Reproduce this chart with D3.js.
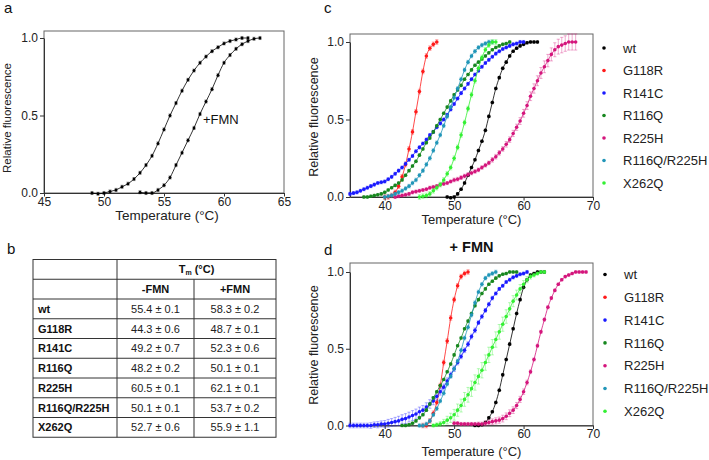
<!DOCTYPE html>
<html>
<head>
<meta charset="utf-8">
<script src="https://cdn.jsdelivr.net/npm/d3@7"></script>
<style>
  body { margin: 0; background: #fff; }
  text { font-family: "Liberation Sans", Arial, sans-serif; }
</style>
</head>
<body>
<svg id="fig" width="709" height="460"></svg>
<script>
// ---- data (temperature °C, relative fluorescence, error) ----
const mutants = ['wt', 'G118R', 'R141C', 'R116Q', 'R225H', 'R116Q/R225H', 'X262Q'];
const colors = ['#000000', '#ff1a1a', '#1a1aff', '#17871f', '#d4157c', '#2196b8', '#33f033'];

const tmNoFmn = ['55.4 ± 0.1', '44.3 ± 0.6', '49.2 ± 0.7', '48.2 ± 0.2', '60.5 ± 0.1', '50.1 ± 0.1', '52.7 ± 0.6'];
const tmFmn = ['58.3 ± 0.2', '48.7 ± 0.1', '52.3 ± 0.6', '50.1 ± 0.1', '62.1 ± 0.1', '53.7 ± 0.2', '55.9 ± 1.1'];

const aXTicks = [45, 50, 55, 60, 65];
const cdXTicks = [40, 50, 60, 70];
const yTicks = [0, 0.5, 1];

// panel a: wt without / with FMN
const aNoFmn = [[49,0,.01],[49.5,-0.005,.01],[50,0,.01],[50.5,0.01,.01],[51,0.02,.01],[51.5,0.04,.01],[52,0.06,.01],[52.5,0.09,.01],[53,0.13,.01],[53.5,0.18,.01],[54,0.24,.01],[54.5,0.32,.01],[55,0.41,.01],[55.5,0.5,.01],[56,0.58,.01],[56.5,0.66,.01],[57,0.73,.01],[57.5,0.79,.01],[58,0.84,.01],[58.5,0.88,.01],[59,0.915,.01],[59.5,0.94,.01],[60,0.965,.01],[60.5,0.98,.01],[61,0.99,.01],[61.5,1,.01],[62,1,.01]];
const aFmn = [[53,0.005,.01],[53.5,0,.01],[54,0,.01],[54.5,0.02,.01],[55,0.05,.01],[55.5,0.1,.01],[56,0.18,.01],[56.5,0.26,.01],[57,0.34,.01],[57.5,0.42,.01],[58,0.51,.01],[58.5,0.59,.01],[59,0.67,.01],[59.5,0.76,.01],[60,0.84,.01],[60.5,0.89,.01],[61,0.93,.01],[61.5,0.96,.01],[62,0.98,.01],[62.5,0.995,.01],[63,1,.01]];

// panel c: no FMN
const cWt = [[49,0,.008],[49.5,-0.005,.008],[50,0,.008],[50.5,0.02,.008],[51,0.05,.008],[51.5,0.09,.008],[52,0.14,.008],[52.5,0.19,.008],[53,0.24,.008],[53.5,0.3,.008],[54,0.36,.008],[54.5,0.43,.008],[55,0.52,.008],[55.5,0.61,.008],[56,0.7,.008],[56.5,0.77,.008],[57,0.83,.008],[57.5,0.87,.008],[58,0.91,.008],[58.5,0.94,.008],[59,0.96,.008],[59.5,0.975,.008],[60,0.985,.008],[60.5,0.995,.008],[61,1,.008],[61.5,1,.008],[62,1,.008]];
const cG118R = [[40,0,.015],[40.5,0,.015],[41,0.01,.015],[41.5,0.03,.015],[42,0.07,.015],[42.5,0.13,.015],[43,0.21,.015],[43.5,0.31,.015],[44,0.42,.015],[44.5,0.55,.015],[45,0.68,.015],[45.5,0.81,.015],[46,0.91,.015],[46.5,0.96,.015],[47,0.985,.015],[47.5,1,.015]];
const cR141C = [[35,0.02,.01],[35.5,0.025,.01],[36,0.03,.01],[36.5,0.04,.01],[37,0.05,.01],[37.5,0.06,.01],[38,0.07,.01],[38.5,0.08,.01],[39,0.09,.01],[39.5,0.095,.01],[40,0.1,.01],[40.5,0.115,.01],[41,0.13,.01],[41.5,0.15,.01],[42,0.17,.01],[42.5,0.19,.01],[43,0.215,.01],[43.5,0.24,.01],[44,0.265,.01],[44.5,0.295,.01],[45,0.32,.01],[45.5,0.345,.01],[46,0.37,.01],[46.5,0.4,.01],[47,0.42,.01],[47.5,0.45,.01],[48,0.475,.01],[48.5,0.5,.01],[49,0.53,.01],[49.5,0.565,.01],[50,0.6,.01],[50.5,0.635,.01],[51,0.67,.01],[51.5,0.7,.01],[52,0.73,.01],[52.5,0.76,.01],[53,0.79,.01],[53.5,0.815,.01],[54,0.84,.01],[54.5,0.865,.01],[55,0.885,.01],[55.5,0.905,.01],[56,0.925,.01],[56.5,0.94,.01],[57,0.955,.01],[57.5,0.965,.01],[58,0.975,.01],[58.5,0.985,.01],[59,0.99,.01],[59.5,1,.01],[60,1,.01]];
const cR116Q = [[37,0,.008],[37.5,0,.008],[38,0.005,.008],[38.5,0.01,.008],[39,0.015,.008],[39.5,0.02,.008],[40,0.03,.008],[40.5,0.045,.008],[41,0.06,.008],[41.5,0.075,.008],[42,0.09,.008],[42.5,0.11,.008],[43,0.14,.008],[43.5,0.17,.008],[44,0.2,.008],[44.5,0.23,.008],[45,0.27,.008],[45.5,0.31,.008],[46,0.35,.008],[46.5,0.38,.008],[47,0.42,.008],[47.5,0.46,.008],[48,0.5,.008],[48.5,0.54,.008],[49,0.58,.008],[49.5,0.62,.008],[50,0.66,.008],[50.5,0.69,.008],[51,0.72,.008],[51.5,0.76,.008],[52,0.79,.008],[52.5,0.82,.008],[53,0.85,.008],[53.5,0.87,.008],[54,0.89,.008],[54.5,0.91,.008],[55,0.93,.008],[55.5,0.95,.008],[56,0.965,.008],[56.5,0.975,.008],[57,0.985,.008],[57.5,0.99,.008],[58,1,.008]];
const cR225H = [[41.5,0,.01],[42,0.005,.01],[42.5,0.01,.01],[43,0.015,.01],[43.5,0.02,.01],[44,0.03,.01],[44.5,0.035,.01],[45,0.04,.01],[45.5,0.045,.01],[46,0.05,.01],[46.5,0.06,.01],[47,0.065,.01],[47.5,0.07,.01],[48,0.08,.01],[48.5,0.085,.01],[49,0.09,.01],[49.5,0.1,.01],[50,0.11,.012],[50.5,0.115,.012],[51,0.125,.012],[51.5,0.135,.012],[52,0.145,.012],[52.5,0.155,.012],[53,0.165,.012],[53.5,0.175,.012],[54,0.19,.012],[54.5,0.205,.012],[55,0.22,.012],[55.5,0.24,.015],[56,0.26,.015],[56.5,0.285,.015],[57,0.31,.015],[57.5,0.34,.018],[58,0.37,.018],[58.5,0.41,.02],[59,0.45,.02],[59.5,0.49,.022],[60,0.54,.025],[60.5,0.59,.025],[61,0.65,.028],[61.5,0.7,.03],[62,0.75,.032],[62.5,0.8,.035],[63,0.84,.038],[63.5,0.88,.04],[64,0.92,.042],[64.5,0.95,.045],[65,0.97,.048],[65.5,0.98,.05],[66,0.99,.05],[66.5,1,.052],[67,1,.052],[67.5,1,.052]];
const cR116QR225H = [[40,0,.012],[40.5,0.005,.012],[41,0.01,.012],[41.5,0.02,.012],[42,0.03,.012],[42.5,0.04,.012],[43,0.055,.012],[43.5,0.07,.012],[44,0.09,.012],[44.5,0.11,.012],[45,0.14,.012],[45.5,0.17,.012],[46,0.21,.012],[46.5,0.25,.012],[47,0.3,.012],[47.5,0.35,.012],[48,0.4,.012],[48.5,0.46,.012],[49,0.52,.012],[49.5,0.58,.012],[50,0.64,.012],[50.5,0.7,.012],[51,0.76,.012],[51.5,0.82,.012],[52,0.87,.012],[52.5,0.91,.012],[53,0.94,.012],[53.5,0.965,.012],[54,0.98,.012],[54.5,0.99,.012],[55,1,.012],[55.5,1,.012]];
const cX262Q = [[45,0,.015],[45.5,0.005,.015],[46,0.01,.015],[46.5,0.02,.015],[47,0.04,.015],[47.5,0.06,.015],[48,0.08,.015],[48.5,0.11,.015],[49,0.15,.015],[49.5,0.19,.015],[50,0.25,.015],[50.5,0.32,.015],[51,0.4,.015],[51.5,0.48,.015],[52,0.57,.015],[52.5,0.66,.015],[53,0.75,.015],[53.5,0.83,.015],[54,0.9,.015],[54.5,0.95,.015],[55,0.98,.015],[55.5,1,.015],[56,1,.015]];

// panel d: + FMN
const dWt = [[53,0,.008],[53.5,0,.008],[54,0.005,.008],[54.5,0.02,.008],[55,0.05,.008],[55.5,0.09,.008],[56,0.15,.008],[56.5,0.23,.008],[57,0.33,.008],[57.5,0.43,.008],[58,0.53,.008],[58.5,0.63,.008],[59,0.73,.008],[59.5,0.82,.008],[60,0.9,.008],[60.5,0.95,.008],[61,0.98,.008],[61.5,0.99,.008],[62,1,.008],[62.5,1,.008],[63,1,.008]];
const dG118R = [[45.5,0,.015],[46,0,.015],[46.5,0.03,.015],[47,0.08,.015],[47.5,0.15,.015],[48,0.26,.015],[48.5,0.41,.015],[49,0.55,.015],[49.5,0.7,.015],[50,0.82,.015],[50.5,0.91,.015],[51,0.97,.015],[51.5,0.99,.015],[52,1,.015]];
const dR141C = [[35,0,.015],[35.5,0,.015],[36,0,.015],[36.5,0,.015],[37,0,.015],[37.5,0,.015],[38,0,.018],[38.5,0.005,.018],[39,0.005,.02],[39.5,0.01,.02],[40,0.01,.022],[40.5,0.015,.025],[41,0.02,.025],[41.5,0.025,.028],[42,0.03,.03],[42.5,0.04,.03],[43,0.045,.032],[43.5,0.055,.032],[44,0.065,.032],[44.5,0.075,.032],[45,0.09,.03],[45.5,0.1,.03],[46,0.12,.028],[46.5,0.14,.028],[47,0.16,.025],[47.5,0.19,.025],[48,0.22,.022],[48.5,0.25,.02],[49,0.29,.02],[49.5,0.33,.018],[50,0.37,.018],[50.5,0.41,.015],[51,0.45,.015],[51.5,0.49,.015],[52,0.53,.015],[52.5,0.58,.015],[53,0.62,.015],[53.5,0.67,.012],[54,0.71,.012],[54.5,0.75,.012],[55,0.79,.012],[55.5,0.83,.012],[56,0.86,.01],[56.5,0.89,.01],[57,0.91,.01],[57.5,0.935,.01],[58,0.95,.01],[58.5,0.965,.01],[59,0.975,.01],[59.5,0.985,.01],[60,0.99,.01],[60.5,1,.01]];
const dR116Q = [[42.5,0,.008],[43,0,.008],[43.5,0.005,.008],[44,0.015,.008],[44.5,0.03,.008],[45,0.05,.008],[45.5,0.07,.008],[46,0.1,.008],[46.5,0.14,.008],[47,0.18,.008],[47.5,0.22,.008],[48,0.26,.008],[48.5,0.3,.008],[49,0.35,.008],[49.5,0.4,.008],[50,0.46,.008],[50.5,0.52,.008],[51,0.57,.008],[51.5,0.63,.008],[52,0.68,.008],[52.5,0.73,.008],[53,0.78,.008],[53.5,0.82,.008],[54,0.86,.008],[54.5,0.89,.008],[55,0.92,.008],[55.5,0.94,.008],[56,0.96,.008],[56.5,0.975,.008],[57,0.985,.008],[57.5,0.99,.008],[58,1,.008],[58.5,1,.008],[59,1,.008]];
const dR225H = [[50,0.015,.01],[50.5,0.015,.01],[51,0.01,.01],[51.5,0.01,.01],[52,0.01,.01],[52.5,0.01,.01],[53,0.01,.01],[53.5,0.01,.012],[54,0.01,.012],[54.5,0.015,.015],[55,0.02,.015],[55.5,0.025,.018],[56,0.03,.02],[56.5,0.035,.02],[57,0.045,.022],[57.5,0.06,.022],[58,0.08,.022],[58.5,0.1,.022],[59,0.13,.02],[59.5,0.17,.02],[60,0.22,.018],[60.5,0.28,.015],[61,0.35,.012],[61.5,0.43,.01],[62,0.52,.01],[62.5,0.61,.01],[63,0.69,.01],[63.5,0.77,.01],[64,0.83,.01],[64.5,0.88,.008],[65,0.92,.008],[65.5,0.95,.008],[66,0.97,.008],[66.5,0.98,.008],[67,0.99,.008],[67.5,1,.008],[68,1,.008],[68.5,1,.008],[69,1,.008]];
const dR116QR225H = [[45,0,.012],[45.5,0,.012],[46,0.01,.012],[46.5,0.03,.012],[47,0.07,.012],[47.5,0.11,.012],[48,0.16,.012],[48.5,0.21,.012],[49,0.27,.012],[49.5,0.32,.012],[50,0.37,.012],[50.5,0.42,.012],[51,0.49,.012],[51.5,0.57,.012],[52,0.64,.012],[52.5,0.72,.012],[53,0.8,.012],[53.5,0.87,.012],[54,0.92,.012],[54.5,0.96,.012],[55,0.98,.012],[55.5,0.99,.012],[56,1,.012]];
const dX262Q = [[47,0,.01],[47.5,0.005,.012],[48,0.01,.015],[48.5,0.02,.02],[49,0.035,.025],[49.5,0.05,.03],[50,0.07,.035],[50.5,0.1,.04],[51,0.13,.042],[51.5,0.17,.045],[52,0.2,.048],[52.5,0.24,.05],[53,0.28,.05],[53.5,0.32,.05],[54,0.36,.05],[54.5,0.41,.05],[55,0.46,.05],[55.5,0.51,.05],[56,0.56,.05],[56.5,0.61,.048],[57,0.66,.046],[57.5,0.71,.044],[58,0.76,.04],[58.5,0.81,.036],[59,0.85,.032],[59.5,0.89,.028],[60,0.92,.024],[60.5,0.95,.02],[61,0.97,.016],[61.5,0.98,.012],[62,0.99,.01],[62.5,1,.01],[63,1,.01]];

const cSeries = [cWt, cG118R, cR141C, cR116Q, cR225H, cR116QR225H, cX262Q];
const dSeries = [dWt, dG118R, dR141C, dR116Q, dR225H, dR116QR225H, dX262Q];

// ---- drawing ----
const svg = d3.select('#fig');
const font = '"Liberation Sans", Arial, sans-serif';

function panelLetter(t, x, y) {
  svg.append('text').text(t).attr('x', x).attr('y', y)
    .style('font-size', '15px').attr('fill', '#111');
}

function drawAxes(x, y, top, xTicks, opts) {
  // frame
  svg.append('rect')
    .attr('x', x.range()[0]).attr('y', top)
    .attr('width', x.range()[1] - x.range()[0])
    .attr('height', y(0) - top)
    .attr('fill', 'none').attr('stroke', '#666').attr('stroke-width', 1);

  const gx = svg.append('g')
    .attr('transform', `translate(0,${y(0)})`)
    .call(d3.axisBottom(x).tickValues(xTicks).tickFormat(d3.format('d'))
      .tickSize(3.5).tickSizeOuter(0).tickPadding(0.5));
  const gy = svg.append('g')
    .attr('transform', `translate(${x.range()[0]},0)`)
    .call(d3.axisLeft(y).tickValues(yTicks).tickFormat(d3.format('.1f'))
      .tickSize(4).tickSizeOuter(0).tickPadding(2));
  [gx, gy].forEach(g => {
    g.attr('font-family', font).attr('font-size', opts.tick);
    g.select('.domain').attr('stroke', '#333');
    g.selectAll('.tick line').attr('stroke', '#333');
    g.selectAll('.tick text').attr('fill', '#222');
  });

  const xm = (x.range()[0] + x.range()[1]) / 2;
  svg.append('text').text('Temperature (°C)')
    .attr('x', xm + opts.xlDx).attr('y', opts.xlY)
    .attr('text-anchor', 'middle').style('font-size', opts.xl + 'px').attr('fill', '#222');
  svg.append('text').text('Relative fluorescence')
    .attr('transform', `translate(${opts.ylX},${opts.ylY}) rotate(-90)`)
    .attr('text-anchor', 'middle').style('font-size', opts.yl + 'px').attr('fill', '#222');
}

function drawSeries(x, y, pts, color, r) {
  const g = svg.append('g');
  g.append('path').datum(pts)
    .attr('d', d3.line().x(d => x(d[0])).y(d => y(d[1])).curve(d3.curveMonotoneX))
    .attr('fill', 'none').attr('stroke', color).attr('stroke-width', 0.8);
  const eb = g.append('g').attr('stroke', color).attr('stroke-opacity', 0.45).attr('stroke-width', 0.8);
  eb.selectAll('.v').data(pts).join('line').attr('class', 'v')
    .attr('x1', d => x(d[0])).attr('x2', d => x(d[0]))
    .attr('y1', d => y(d[1] - d[2])).attr('y2', d => y(d[1] + d[2]));
  eb.selectAll('.t').data(pts).join('line').attr('class', 't')
    .attr('x1', d => x(d[0]) - 1.6).attr('x2', d => x(d[0]) + 1.6)
    .attr('y1', d => y(d[1] + d[2])).attr('y2', d => y(d[1] + d[2]));
  eb.selectAll('.b').data(pts).join('line').attr('class', 'b')
    .attr('x1', d => x(d[0]) - 1.6).attr('x2', d => x(d[0]) + 1.6)
    .attr('y1', d => y(d[1] - d[2])).attr('y2', d => y(d[1] - d[2]));
  g.selectAll('circle').data(pts).join('circle')
    .attr('cx', d => x(d[0])).attr('cy', d => y(d[1])).attr('r', r)
    .attr('fill', color);
}

function drawLegend(x0, y0, step) {
  mutants.forEach((m, i) => {
    svg.append('circle').attr('cx', x0).attr('cy', y0 + i * step).attr('r', 1.8).attr('fill', colors[i]);
    svg.append('text').text(m).attr('x', x0 + 19).attr('y', y0 + i * step + 4.6)
      .style('font-size', '13px').attr('fill', '#222');
  });
}

// panel a
panelLetter('a', 4, 13);
const xa = d3.scaleLinear().domain([45, 65]).range([44, 284]);
const ya = d3.scaleLinear().domain([0, 1]).range([193, 38]);
drawAxes(xa, ya, 31, aXTicks, { tick: 12, xl: 13.5, xlY: 219.5, xlDx: 3, yl: 11.5, ylX: 11, ylY: 118 });
drawSeries(xa, ya, aNoFmn, '#000', 1.5);
drawSeries(xa, ya, aFmn, '#000', 1.5);
svg.append('text').text('+FMN').attr('x', 203).attr('y', 124)
  .style('font-size', '13px').attr('fill', '#111');

// panel b: table
panelLetter('b', 7, 254);
const tb = { left: 33, c1: 117, c2: 194, right: 276, top: 259.5, rowH: 19.75 };
const nRows = mutants.length + 2;
const tg = svg.append('g').attr('stroke', '#333').attr('stroke-width', 1);
tg.append('rect').attr('x', tb.left).attr('y', tb.top)
  .attr('width', tb.right - tb.left).attr('height', nRows * tb.rowH).attr('fill', 'none');
for (let i = 1; i < nRows; i++) {
  tg.append('line').attr('x1', tb.left).attr('x2', tb.right)
    .attr('y1', tb.top + i * tb.rowH).attr('y2', tb.top + i * tb.rowH);
}
tg.append('line').attr('x1', tb.c1).attr('x2', tb.c1).attr('y1', tb.top).attr('y2', tb.top + nRows * tb.rowH);
tg.append('line').attr('x1', tb.c2).attr('x2', tb.c2).attr('y1', tb.top + tb.rowH).attr('y2', tb.top + nRows * tb.rowH);

const rowBase = i => tb.top + (i + 0.5) * tb.rowH + 4;
const hdr = svg.append('text').attr('x', (tb.c1 + tb.right) / 2).attr('y', rowBase(0))
  .attr('text-anchor', 'middle').style('font-size', '11px').style('font-weight', 'bold').attr('fill', '#111');
hdr.append('tspan').text('T');
hdr.append('tspan').text('m').style('font-size', '7px').attr('dy', 2);
hdr.append('tspan').text(' (°C)').attr('dy', -2);
svg.append('text').text('-FMN').attr('x', (tb.c1 + tb.c2) / 2).attr('y', rowBase(1))
  .attr('text-anchor', 'middle').style('font-size', '11px').style('font-weight', 'bold').attr('fill', '#111');
svg.append('text').text('+FMN').attr('x', (tb.c2 + tb.right) / 2).attr('y', rowBase(1))
  .attr('text-anchor', 'middle').style('font-size', '11px').style('font-weight', 'bold').attr('fill', '#111');
mutants.forEach((m, i) => {
  svg.append('text').text(m).attr('x', tb.left + 5).attr('y', rowBase(i + 2))
    .style('font-size', '11px').style('font-weight', 'bold').attr('fill', '#111');
  svg.append('text').text(tmNoFmn[i]).attr('x', (tb.c1 + tb.c2) / 2).attr('y', rowBase(i + 2))
    .attr('text-anchor', 'middle').style('font-size', '11px').attr('fill', '#222');
  svg.append('text').text(tmFmn[i]).attr('x', (tb.c2 + tb.right) / 2).attr('y', rowBase(i + 2))
    .attr('text-anchor', 'middle').style('font-size', '11px').attr('fill', '#222');
});

// panel c
panelLetter('c', 324, 13);
const xc = d3.scaleLinear().domain([35, 70]).range([350, 593]);
const yc = d3.scaleLinear().domain([0, 1]).range([197, 42]);
drawAxes(xc, yc, 34, cdXTicks, { tick: 12, xl: 13, xlY: 223.5, xlDx: 0, yl: 12.5, ylX: 318, ylY: 117 });
cSeries.forEach((s, i) => drawSeries(xc, yc, s, colors[i], 1.8));
drawLegend(604, 48, 22.5);

// panel d
panelLetter('d', 324, 255);
svg.append('text').text('+ FMN').attr('x', 471.5).attr('y', 252)
  .attr('text-anchor', 'middle').style('font-size', '14.5px').style('font-weight', 'bold').attr('fill', '#111');
const xd = d3.scaleLinear().domain([35, 70]).range([350, 593]);
const yd = d3.scaleLinear().domain([0, 1]).range([425.5, 272]);
drawAxes(xd, yd, 263, cdXTicks, { tick: 12, xl: 13, xlY: 455.5, xlDx: 0, yl: 12.5, ylX: 318, ylY: 345 });
dSeries.forEach((s, i) => drawSeries(xd, yd, s, colors[i], 1.8));
drawLegend(605, 274.5, 22.8);
</script>
</body>
</html>
